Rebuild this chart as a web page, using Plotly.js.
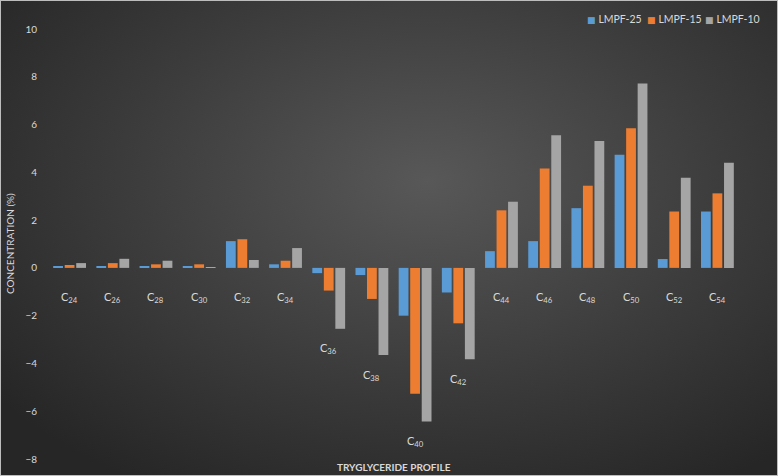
<!DOCTYPE html>
<html>
<head>
<meta charset="utf-8">
<script src="https://cdn.plot.ly/plotly-3.0.1.min.js"></script>
<style>
  html, body { margin: 0; padding: 0; background: #262626; }
  #cadre {
    width: 778px; height: 476px; box-sizing: border-box;
    border: 1px solid #bdbdbd;
    background: radial-gradient(ellipse 70% 75% at 55% 38%, #585858 0%, #3c3c3c 55%, #262626 100%);
  }
  #graph { width: 776px; height: 474px; }
</style>
</head>
<body>
<div id="cadre"><div id="graph"></div></div>
<script>
// profil des triglycérides : catégories et valeurs
var categories = ['C24', 'C26', 'C28', 'C30', 'C32', 'C34', 'C36', 'C38',
                  'C40', 'C42', 'C44', 'C46', 'C48', 'C50', 'C52', 'C54'];
var etiquettes = ['C<sub>24</sub>', 'C<sub>26</sub>', 'C<sub>28</sub>', 'C<sub>30</sub>',
                  'C<sub>32</sub>', 'C<sub>34</sub>', 'C<sub>36</sub>', 'C<sub>38</sub>',
                  'C<sub>40</sub>', 'C<sub>42</sub>', 'C<sub>44</sub>', 'C<sub>46</sub>',
                  'C<sub>48</sub>', 'C<sub>50</sub>', 'C<sub>52</sub>', 'C<sub>54</sub>'];
var series = ['LMPF-25', 'LMPF-15', 'LMPF-10'];
var lmpf25 = [0.05, 0.08, 0.07, 0.07, 1.12, 0.15, -0.22, -0.30, -2.00, -1.03, 0.70, 1.12, 2.50, 4.74, 0.37, 2.36];
var lmpf15 = [0.12, 0.20, 0.15, 0.15, 1.20, 0.30, -0.95, -1.30, -5.27, -2.32, 2.41, 4.16, 3.44, 5.85, 2.36, 3.12];
var lmpf10 = [0.20, 0.38, 0.30, 0.03, 0.33, 0.83, -2.55, -3.65, -6.43, -3.82, 2.77, 5.55, 5.31, 7.72, 3.77, 4.40];

var couleurs = ['#5b9bd5', '#ed7d31', '#a5a5a5'];
var couleurTexte = '#d9d9d9';
var police = 'Lato, "Open Sans", sans-serif';

function serie(nom, valeurs, couleur) {
	return {
		type: 'bar',
		name: nom,
		x: categories,
		y: valeurs,
		marker: {color: couleur, line: {width: 0}},
		hoverinfo: 'x+y+name'
	};
}

var data = [
	serie(series[0], lmpf25, couleurs[0]),
	serie(series[1], lmpf15, couleurs[1]),
	serie(series[2], lmpf10, couleurs[2])
];

// étiquettes des catégories placées sous le groupe de barres
var annotations = categories.map(function(c, i) {
	var bas = Math.min(0, lmpf25[i], lmpf15[i], lmpf10[i]);
	return {
		x: c, y: bas, xref: 'x', yref: 'y',
		text: etiquettes[i], showarrow: false,
		yanchor: 'middle', yshift: bas < 0 ? -20 : -30,
		font: {family: police, size: 11, color: couleurTexte}
	};
});
// titres des axes
annotations.push({
	xref: 'paper', yref: 'paper', x: 0.5, y: 0, yanchor: 'middle', yshift: -8,
	text: '<b>TRYGLYCERIDE PROFILE</b>', showarrow: false,
	font: {family: police, size: 10, color: couleurTexte}
});
annotations.push({
	xref: 'paper', yref: 'paper', x: 0, y: 0.5, xanchor: 'center', xshift: -38,
	textangle: -90, text: 'CONCENTRATION (%)', showarrow: false,
	font: {family: police, size: 10, color: couleurTexte}
});
// légende façon Excel : petit carré collé au texte
var positionsLegende = [0.7772, 0.864, 0.948];
series.forEach(function(nom, k) {
	annotations.push({
		xref: 'paper', yref: 'paper', x: positionsLegende[k], y: 1, xanchor: 'left',
		yanchor: 'middle', yshift: 10, showarrow: false,
		text: '<span style="color:' + couleurs[k] + ';font-family:DejaVu Sans;font-size:9px">■ </span>' + nom,
		font: {family: police, size: 10.5, color: couleurTexte}
	});
});

var layout = {
	width: 776, height: 474,
	margin: {l: 47, r: 38, t: 28, b: 16},
	paper_bgcolor: 'rgba(0,0,0,0)',
	plot_bgcolor: 'rgba(0,0,0,0)',
	font: {family: police, size: 10, color: couleurTexte},
	barmode: 'group',
	bargap: 0.2,
	bargroupgap: 0.15,
	showlegend: false,
	xaxis: {
		showticklabels: false, showgrid: false, zeroline: false, showline: false,
		ticks: ''
	},
	yaxis: {
		range: [-8, 10], dtick: 2, showgrid: false, zeroline: false, showline: false,
		ticks: '', ticklabelstandoff: 10,
		tickfont: {family: police, size: 10, color: couleurTexte}
	},
	annotations: annotations
};

Plotly.newPlot('graph', data, layout, {displayModeBar: false, displaylogo: false});
</script>
</body>
</html>
